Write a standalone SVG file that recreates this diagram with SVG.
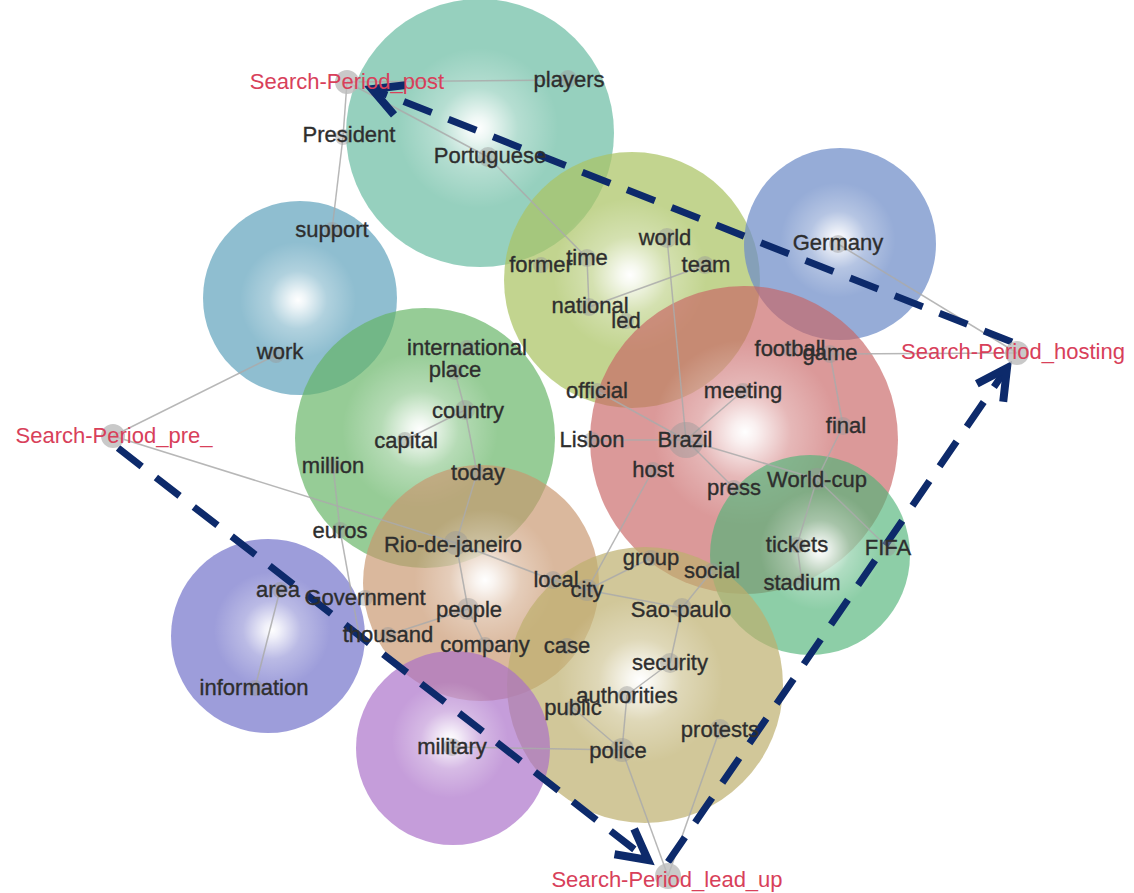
<svg xmlns="http://www.w3.org/2000/svg" width="1134" height="893" viewBox="0 0 1134 893">
<style>
.lbl{font-family:"Liberation Sans",Arial,sans-serif;font-size:22px;fill:#2e2e2e;stroke:#2e2e2e;stroke-width:0.35;text-anchor:middle}
.sp{font-family:"Liberation Sans",Arial,sans-serif;font-size:22px;fill:#d8405a;text-anchor:middle}
.dot{fill:#999;fill-opacity:0.45}
.spdot{fill:#bbb;fill-opacity:0.8}
.edge{stroke:#aaa;stroke-width:1.5;stroke-opacity:0.85;fill:none}
.dash{stroke:#0d2a6b;stroke-width:7;stroke-dasharray:30 18;fill:none;marker-end:url(#chev)}
.shine{fill:url(#shine)}
</style>
<defs>
<radialGradient id="shine" cx="0.5" cy="0.5" r="0.5">
<stop offset="0" stop-color="#fff" stop-opacity="1"/>
<stop offset="0.08" stop-color="#fff" stop-opacity="0.85"/>
<stop offset="0.3" stop-color="#fff" stop-opacity="0.3"/>
<stop offset="0.6" stop-color="#fff" stop-opacity="0"/>
</radialGradient>
<marker id="chev" markerUnits="userSpaceOnUse" markerWidth="44" markerHeight="44" viewBox="0 0 44 44" refX="38" refY="22" orient="auto" overflow="visible">
<path d="M8,6 L38,22 L8,38" stroke="#0d2a6b" stroke-width="8" fill="none"/>
</marker>
</defs>
<rect width="1134" height="893" fill="#fff"/>
<g id="bubbles">
<g id="b-teal"><circle cx="480" cy="133" r="134" fill="rgb(110,190,165)" fill-opacity="0.72"/><circle class="shine" cx="478" cy="128" r="134"/></g>
<g id="b-lightblue"><circle cx="300" cy="298" r="97" fill="rgb(100,165,190)" fill-opacity="0.72"/><circle class="shine" cx="298" cy="300" r="97"/></g>
<g id="b-yellowgreen"><circle cx="632" cy="280" r="128" fill="rgb(170,195,100)" fill-opacity="0.72"/><circle class="shine" cx="630" cy="275" r="128"/></g>
<g id="b-blue"><circle cx="840" cy="244" r="96" fill="rgb(110,140,200)" fill-opacity="0.72"/><circle class="shine" cx="838" cy="240" r="96"/></g>
<g id="b-red"><circle cx="744" cy="440" r="154" fill="rgb(200,100,100)" fill-opacity="0.66"/><circle class="shine" cx="745" cy="432" r="154"/></g>
<g id="b-green"><circle cx="425" cy="438" r="130" fill="rgb(100,180,100)" fill-opacity="0.68"/><circle class="shine" cx="420" cy="430" r="130"/></g>
<g id="b-tan"><circle cx="481" cy="583" r="118" fill="rgb(200,150,110)" fill-opacity="0.68"/><circle class="shine" cx="485" cy="580" r="118"/></g>
<g id="b-fifa"><circle cx="810" cy="555" r="100" fill="rgb(80,180,120)" fill-opacity="0.65"/><circle class="shine" cx="820" cy="550" r="100"/></g>
<g id="b-khaki"><circle cx="645" cy="685" r="138" fill="rgb(190,175,110)" fill-opacity="0.7"/><circle class="shine" cx="640" cy="680" r="138"/></g>
<g id="b-purpleblue"><circle cx="268" cy="636" r="97" fill="rgb(110,110,200)" fill-opacity="0.68"/><circle class="shine" cx="272" cy="630" r="97"/></g>
<g id="b-purple"><circle cx="453" cy="748" r="97" fill="rgb(170,110,200)" fill-opacity="0.68"/><circle class="shine" cx="450" cy="740" r="97"/></g>
</g>
<g id="connectors">
<line class="edge" x1="347" y1="82" x2="568" y2="80"/>
<line class="edge" x1="347" y1="82" x2="488" y2="157"/>
<line class="edge" x1="347" y1="82" x2="343" y2="137"/>
<line class="edge" x1="343" y1="137" x2="332" y2="230"/>
<line class="edge" x1="488" y1="157" x2="587" y2="258"/>
<line class="edge" x1="113" y1="436" x2="276" y2="355"/>
<line class="edge" x1="113" y1="436" x2="456" y2="543"/>
<line class="edge" x1="587" y1="258" x2="589" y2="307"/>
<line class="edge" x1="589" y1="307" x2="705" y2="265"/>
<line class="edge" x1="667" y1="238" x2="686" y2="440"/>
<line class="edge" x1="597" y1="391" x2="686" y2="440"/>
<line class="edge" x1="592" y1="440" x2="686" y2="440"/>
<line class="edge" x1="743" y1="391" x2="686" y2="440"/>
<line class="edge" x1="686" y1="440" x2="817" y2="479"/>
<line class="edge" x1="686" y1="440" x2="734" y2="488"/>
<line class="edge" x1="653" y1="470" x2="587" y2="590"/>
<line class="edge" x1="830" y1="354" x2="1017" y2="353"/>
<line class="edge" x1="830" y1="354" x2="843" y2="426"/>
<line class="edge" x1="843" y1="426" x2="817" y2="479"/>
<line class="edge" x1="817" y1="479" x2="797" y2="545"/>
<line class="edge" x1="797" y1="545" x2="802" y2="583"/>
<line class="edge" x1="817" y1="479" x2="880" y2="540"/>
<line class="edge" x1="838" y1="244" x2="1017" y2="353"/>
<line class="edge" x1="587" y1="590" x2="651" y2="558"/>
<line class="edge" x1="587" y1="590" x2="682" y2="608"/>
<line class="edge" x1="712" y1="571" x2="682" y2="608"/>
<line class="edge" x1="682" y1="608" x2="670" y2="663"/>
<line class="edge" x1="670" y1="663" x2="627" y2="695"/>
<line class="edge" x1="627" y1="695" x2="622" y2="750"/>
<line class="edge" x1="573" y1="708" x2="622" y2="750"/>
<line class="edge" x1="452" y1="747" x2="622" y2="750"/>
<line class="edge" x1="622" y1="750" x2="668" y2="876"/>
<line class="edge" x1="720" y1="729" x2="668" y2="876"/>
<line class="edge" x1="456" y1="543" x2="477" y2="473"/>
<line class="edge" x1="477" y1="473" x2="465" y2="410"/>
<line class="edge" x1="465" y1="410" x2="455" y2="372"/>
<line class="edge" x1="465" y1="410" x2="405" y2="440"/>
<line class="edge" x1="456" y1="543" x2="468" y2="609"/>
<line class="edge" x1="468" y1="609" x2="388" y2="635"/>
<line class="edge" x1="468" y1="609" x2="485" y2="645"/>
<line class="edge" x1="456" y1="543" x2="553" y2="580"/>
<line class="edge" x1="553" y1="580" x2="587" y2="590"/>
<line class="edge" x1="333" y1="466" x2="340" y2="530"/>
<line class="edge" x1="340" y1="530" x2="360" y2="640"/>
<line class="edge" x1="280" y1="590" x2="255" y2="688"/>
<path class="dash" d="M1012,342 L372,89"/>
<path class="dash" d="M118,448 L648,860"/>
<path class="dash" d="M668,862 L1007,368"/>
</g>
<g id="nodes">
<g id="n-sp-post"><circle class="spdot" cx="347" cy="82" r="12"/><text class="sp" x="347" y="89">Search-Period_post</text></g>
<g id="n-sp-hosting"><circle class="spdot" cx="1017" cy="353" r="12"/><text class="sp" x="1013" y="359">Search-Period_hosting</text></g>
<g id="n-sp-pre"><circle class="spdot" cx="113" cy="436" r="12"/><text class="sp" x="114" y="443">Search-Period_pre_</text></g>
<g id="n-sp-leadup"><circle class="spdot" cx="668" cy="876" r="13"/><text class="sp" x="667" y="887">Search-Period_lead_up</text></g>
<g id="n-players"><circle class="dot" cx="568" cy="79" r="9"/><text class="lbl" x="569" y="87">players</text></g>
<g id="n-president"><circle class="dot" cx="343" cy="137" r="8"/><text class="lbl" x="349" y="142">President</text></g>
<g id="n-portuguese"><circle class="dot" cx="488" cy="157" r="10"/><text class="lbl" x="490" y="163">Portuguese</text></g>
<g id="n-support"><circle class="dot" cx="332" cy="230" r="8"/><text class="lbl" x="332" y="237">support</text></g>
<g id="n-work"><circle class="dot" cx="276" cy="355" r="8"/><text class="lbl" x="280" y="359">work</text></g>
<g id="n-former"><circle class="dot" cx="541" cy="265" r="8"/><text class="lbl" x="541" y="272">former</text></g>
<g id="n-time"><circle class="dot" cx="587" cy="258" r="9"/><text class="lbl" x="587" y="265">time</text></g>
<g id="n-world"><circle class="dot" cx="667" cy="238" r="10"/><text class="lbl" x="665" y="245">world</text></g>
<g id="n-team"><circle class="dot" cx="705" cy="265" r="9"/><text class="lbl" x="706" y="272">team</text></g>
<g id="n-national"><circle class="dot" cx="589" cy="307" r="9"/><text class="lbl" x="590" y="313">national</text></g>
<g id="n-led"><circle class="dot" cx="626" cy="321" r="8"/><text class="lbl" x="626" y="328">led</text></g>
<g id="n-germany"><circle class="dot" cx="838" cy="244" r="9"/><text class="lbl" x="838" y="250">Germany</text></g>
<g id="n-football"><circle class="dot" cx="790" cy="349" r="8"/><text class="lbl" x="790" y="356">football</text></g>
<g id="n-game"><circle class="dot" cx="830" cy="354" r="9"/><text class="lbl" x="830" y="360">game</text></g>
<g id="n-international"><circle class="dot" cx="467" cy="348" r="8"/><text class="lbl" x="467" y="355">international</text></g>
<g id="n-place"><circle class="dot" cx="455" cy="372" r="8"/><text class="lbl" x="455" y="377">place</text></g>
<g id="n-official"><circle class="dot" cx="597" cy="391" r="8"/><text class="lbl" x="597" y="398">official</text></g>
<g id="n-meeting"><circle class="dot" cx="743" cy="391" r="8"/><text class="lbl" x="743" y="398">meeting</text></g>
<g id="n-country"><circle class="dot" cx="465" cy="410" r="10"/><text class="lbl" x="468" y="418">country</text></g>
<g id="n-final"><circle class="dot" cx="843" cy="426" r="9"/><text class="lbl" x="846" y="433">final</text></g>
<g id="n-capital"><circle class="dot" cx="405" cy="440" r="8"/><text class="lbl" x="406" y="448">capital</text></g>
<g id="n-lisbon"><circle class="dot" cx="592" cy="440" r="8"/><text class="lbl" x="592" y="447">Lisbon</text></g>
<g id="n-brazil"><circle class="dot" cx="686" cy="440" r="18"/><text class="lbl" x="685" y="447">Brazil</text></g>
<g id="n-million"><circle class="dot" cx="333" cy="466" r="8"/><text class="lbl" x="333" y="473">million</text></g>
<g id="n-host"><circle class="dot" cx="653" cy="470" r="8"/><text class="lbl" x="653" y="477">host</text></g>
<g id="n-today"><circle class="dot" cx="477" cy="473" r="8"/><text class="lbl" x="478" y="480">today</text></g>
<g id="n-press"><circle class="dot" cx="734" cy="488" r="8"/><text class="lbl" x="734" y="495">press</text></g>
<g id="n-worldcup"><circle class="dot" cx="817" cy="479" r="11"/><text class="lbl" x="817" y="487">World-cup</text></g>
<g id="n-euros"><circle class="dot" cx="340" cy="530" r="8"/><text class="lbl" x="340" y="538">euros</text></g>
<g id="n-rio"><circle class="dot" cx="456" cy="543" r="12"/><text class="lbl" x="453" y="552">Rio-de-janeiro</text></g>
<g id="n-tickets"><circle class="dot" cx="797" cy="545" r="8"/><text class="lbl" x="797" y="552">tickets</text></g>
<g id="n-fifa"><circle class="dot" cx="888" cy="548" r="8"/><text class="lbl" x="888" y="555">FIFA</text></g>
<g id="n-group"><circle class="dot" cx="651" cy="558" r="8"/><text class="lbl" x="651" y="565">group</text></g>
<g id="n-social"><circle class="dot" cx="712" cy="571" r="8"/><text class="lbl" x="712" y="578">social</text></g>
<g id="n-local"><circle class="dot" cx="553" cy="580" r="9"/><text class="lbl" x="556" y="587">local</text></g>
<g id="n-city"><circle class="dot" cx="587" cy="590" r="11"/><text class="lbl" x="587" y="597">city</text></g>
<g id="n-stadium"><circle class="dot" cx="802" cy="583" r="8"/><text class="lbl" x="802" y="590">stadium</text></g>
<g id="n-area"><circle class="dot" cx="280" cy="590" r="8"/><text class="lbl" x="278" y="597">area</text></g>
<g id="n-government"><circle class="dot" cx="365" cy="598" r="8"/><text class="lbl" x="365" y="605">Government</text></g>
<g id="n-people"><circle class="dot" cx="468" cy="609" r="11"/><text class="lbl" x="469" y="617">people</text></g>
<g id="n-saopaulo"><circle class="dot" cx="682" cy="608" r="10"/><text class="lbl" x="681" y="617">Sao-paulo</text></g>
<g id="n-thousand"><circle class="dot" cx="388" cy="635" r="8"/><text class="lbl" x="388" y="642">thousand</text></g>
<g id="n-company"><circle class="dot" cx="485" cy="645" r="8"/><text class="lbl" x="485" y="652">company</text></g>
<g id="n-case"><circle class="dot" cx="567" cy="646" r="8"/><text class="lbl" x="567" y="653">case</text></g>
<g id="n-security"><circle class="dot" cx="670" cy="663" r="10"/><text class="lbl" x="670" y="670">security</text></g>
<g id="n-information"><circle class="dot" cx="255" cy="688" r="8"/><text class="lbl" x="254" y="695">information</text></g>
<g id="n-authorities"><circle class="dot" cx="627" cy="695" r="9"/><text class="lbl" x="627" y="703">authorities</text></g>
<g id="n-public"><circle class="dot" cx="573" cy="708" r="8"/><text class="lbl" x="573" y="715">public</text></g>
<g id="n-protests"><circle class="dot" cx="720" cy="729" r="10"/><text class="lbl" x="720" y="737">protests</text></g>
<g id="n-military"><circle class="dot" cx="452" cy="747" r="9"/><text class="lbl" x="452" y="754">military</text></g>
<g id="n-police"><circle class="dot" cx="622" cy="750" r="12"/><text class="lbl" x="618" y="758">police</text></g>
</g>
</svg>
